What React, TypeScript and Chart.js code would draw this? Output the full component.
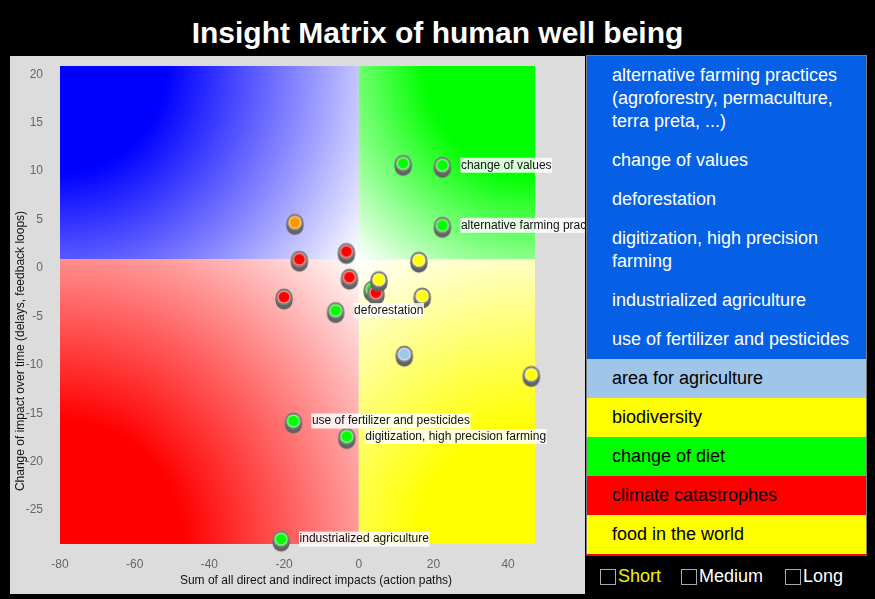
import React, { useEffect, useRef } from 'react';
import { Chart, registerables } from 'chart.js';

Chart.register(...registerables);

const TITLE = 'Insight Matrix of human well being';
const X_TITLE = 'Sum of all direct and indirect impacts (action paths)';
const Y_TITLE = 'Change of impact over time (delays, feedback loops)';

// scatter points (draw order matters for overlaps)
const xValues = [11.9, 22.4, -17.1, 22.4, -3.3, -15.9, 16.1, -2.5, 3.6, 4.6, 5.4, -20.0, 17.0, -6.2, 12.2, 46.2, -17.5, -3.2, -20.8];
const yValues = [10.8, 10.6, 4.7, 4.4, 1.7, 0.9, 0.8, -0.95, -2.2, -2.55, -1.2, -3.0, -2.9, -4.4, -8.9, -11.0, -15.8, -17.4, -28.0];
const pointKinds = ['green', 'green', 'orange', 'green', 'red', 'red', 'yellow', 'red', 'green', 'red', 'yellow', 'red', 'yellow', 'green', 'lightblue', 'yellow', 'green', 'green', 'green'];
const pointLabels = ['', 'change of values', '', 'alternative farming practices (agroforestry, permaculture, terra preta, ...)', '', '', '', '', '', '', '', '', '', 'deforestation', '', '', 'use of fertilizer and pesticides', 'digitization, high precision farming', 'industrialized agriculture'];

const kindColors: Record<string, string> = {
  green: '#00ff00',
  red: '#ff0000',
  yellow: '#ffff00',
  orange: '#ff9900',
  lightblue: '#9fc5e8',
};
const kindRims: Record<string, string> = {
  green: '#8dff8d',
  red: '#ff9090',
  yellow: '#ffff9a',
  orange: '#ffcc80',
  lightblue: '#d6e6f5',
};

// axis ranges / ticks
const X_MIN = -80;
const X_MAX = 47.2;
const X_STEP = 20;
const Y_MIN = -28.5;
const Y_MAX = 20.85;
const Y_STEP = 5;
const Y_SPLIT = 0.9;
const X_SPLIT = 0;

// side legend
const legendLines: string[][] = [
  ['alternative farming practices', '(agroforestry, permaculture,', 'terra preta, ...)'],
  ['change of values'],
  ['deforestation'],
  ['digitization, high precision', 'farming'],
  ['industrialized agriculture'],
  ['use of fertilizer and pesticides'],
  ['area for agriculture'],
  ['biodiversity'],
  ['change of diet'],
  ['climate catastrophes'],
  ['food in the world'],
];
const legendBg = ['#0560e6', '#0560e6', '#0560e6', '#0560e6', '#0560e6', '#0560e6', '#9fc5e8', '#ffff00', '#00ff00', '#ff0000', '#ffff00'];
const legendFg = ['#fff', '#fff', '#fff', '#fff', '#fff', '#fff', '#000', '#000', '#000', '#000', '#000'];

const horizonLabels = ['Short', 'Medium', 'Long'];
const horizonColors = ['#f2f200', '#fff', '#fff'];
const horizonX = [600, 681, 785];

const FONT = '"Liberation Sans", Arial, Helvetica, sans-serif';

function makeMarker(kind: string): HTMLCanvasElement {
  const c = document.createElement('canvas');
  c.width = 20;
  c.height = 30;
  const g = c.getContext('2d')!;
  const cx = 10;
  const cy = 15;
  g.fillStyle = '#626262';
  g.beginPath();
  g.arc(cx, cy + 4, 8.5, 0, Math.PI * 2);
  g.fill();
  g.fillRect(cx - 8.5, cy, 17, 4);
  g.fillStyle = '#7a7a7a';
  g.beginPath();
  g.arc(cx, cy, 8.5, 0, Math.PI * 2);
  g.fill();
  g.fillStyle = kindRims[kind];
  g.beginPath();
  g.arc(cx, cy, 6.6, 0, Math.PI * 2);
  g.fill();
  g.fillStyle = kindColors[kind];
  g.beginPath();
  g.arc(cx, cy, 5.3, 0, Math.PI * 2);
  g.fill();
  return c;
}

const quadrantPlugin = {
  id: 'quadrants',
  beforeDatasetsDraw(chart: any) {
    const { ctx, chartArea: a, scales } = chart;
    const cx = scales.x.getPixelForValue(X_SPLIT);
    const cy = scales.y.getPixelForValue(Y_SPLIT);
    const quads = [
      { x0: a.left, y0: a.top, x1: cx, y1: cy, fx: a.left, fy: a.top, color: '0,0,255', stop: 0.3 },
      { x0: cx, y0: a.top, x1: a.right, y1: cy, fx: a.right, fy: a.top, color: '0,255,0', stop: 0.42 },
      { x0: a.left, y0: cy, x1: cx, y1: a.bottom, fx: a.left, fy: a.bottom, color: '255,0,0', stop: 0.3 },
      { x0: cx, y0: cy, x1: a.right, y1: a.bottom, fx: a.right, fy: a.bottom, color: '255,255,0', stop: 0.35 },
    ];
    ctx.save();
    for (const q of quads) {
      const r = Math.hypot(cx - q.fx, cy - q.fy);
      const grad = ctx.createRadialGradient(q.fx, q.fy, 0, q.fx, q.fy, r);
      grad.addColorStop(0, `rgb(${q.color})`);
      grad.addColorStop(q.stop, `rgb(${q.color})`);
      grad.addColorStop(1, '#ffffff');
      ctx.fillStyle = grad;
      ctx.fillRect(q.x0, q.y0, q.x1 - q.x0, q.y1 - q.y0);
    }
    ctx.restore();
  },
};

const labelPlugin = {
  id: 'pointLabels',
  afterDatasetsDraw(chart: any) {
    const { ctx } = chart;
    const meta = chart.getDatasetMeta(0);
    ctx.save();
    ctx.font = `12px ${FONT}`;
    ctx.textBaseline = 'middle';
    meta.data.forEach((pt: any, i: number) => {
      const text = pointLabels[i];
      if (!text) return;
      const w = ctx.measureText(text).width;
      const lx = pt.x + 18;
      ctx.fillStyle = 'rgba(255,255,255,0.85)';
      ctx.fillRect(lx, pt.y - 7.5, w + 1, 15);
      ctx.fillStyle = '#111';
      ctx.fillText(text, lx + 0.5, pt.y);
    });
    ctx.restore();
  },
  afterDraw(chart: any) {
    const { ctx } = chart;
    ctx.save();
    ctx.font = `12px ${FONT}`;
    ctx.fillStyle = '#111';
    ctx.textAlign = 'center';
    ctx.textBaseline = 'middle';
    ctx.fillText(X_TITLE, 306, 525);
    ctx.translate(11, 295);
    ctx.rotate(-Math.PI / 2);
    ctx.fillText(Y_TITLE, 0, 0);
    ctx.restore();
  },
};

function MatrixChart() {
  const ref = useRef<HTMLCanvasElement | null>(null);
  useEffect(() => {
    if (!ref.current) return;
    const markers = pointKinds.map((k) => makeMarker(k));
    const data = xValues.map((x, i) => ({ x, y: yValues[i] }));
    const chart = new Chart(ref.current, {
      type: 'scatter',
      data: {
        datasets: [
          {
            data,
            pointStyle: markers as any,
            pointRadius: 9,
            pointHoverRadius: 9,
            clip: false as any,
          },
        ],
      },
      options: {
        animation: false,
        responsive: false,
        maintainAspectRatio: false,
        layout: { padding: { top: 9, right: 50, left: 0, bottom: 0 } },
        plugins: { legend: { display: false }, tooltip: { enabled: false }, title: { display: false } },
        scales: {
          x: {
            type: 'linear',
            min: X_MIN,
            max: X_MAX,
            border: { display: false },
            grid: { display: false, drawTicks: false },
            ticks: { stepSize: X_STEP, includeBounds: false, padding: 13, color: '#666', font: { family: FONT, size: 12 } },
            afterFit: (s: any) => {
              s.height = 50;
              s.paddingLeft = 0;
              s.paddingRight = 0;
              s.paddingTop = 0;
              s.paddingBottom = 0;
            },
          },
          y: {
            type: 'linear',
            min: Y_MIN,
            max: Y_MAX,
            border: { display: false },
            grid: { display: false, drawTicks: false },
            ticks: { stepSize: Y_STEP, includeBounds: false, padding: 17, color: '#666', font: { family: FONT, size: 12 } },
            afterFit: (s: any) => {
              s.width = 50;
              s.paddingLeft = 0;
              s.paddingRight = 0;
              s.paddingTop = 0;
              s.paddingBottom = 0;
            },
          },
        },
      },
      plugins: [quadrantPlugin, labelPlugin],
    } as any);
    return () => chart.destroy();
  }, []);
  return <canvas ref={ref} width={575} height={538} style={{ display: 'block', width: 575, height: 538 }} />;
}

export default function App() {
  return (
    <div style={{ position: 'fixed', left: 0, top: 0, width: 875, height: 599, background: '#000', overflow: 'hidden', fontFamily: FONT }}>
      <div style={{ position: 'absolute', left: 0, top: 18, width: 875, textAlign: 'center', color: '#fff', fontWeight: 'bold', fontSize: 30, lineHeight: '30px', fontFamily: FONT }}>
        {TITLE}
      </div>
      <div style={{ position: 'absolute', left: 10, top: 56, width: 575, height: 538, background: '#dcdcdc' }}>
        <MatrixChart />
      </div>
      <div
        style={{
          position: 'absolute',
          left: 586,
          top: 55,
          width: 281,
          height: 501,
          boxSizing: 'border-box',
          border: '1px solid #7a7a7a',
          borderBottom: '2px solid #ff0000',
          overflow: 'hidden',
          background: '#ff0000',
        }}
      >
        {legendLines.map((lines, i) => (
          <div key={i} style={{ background: legendBg[i], color: legendFg[i], padding: '8px 0 8px 25px', fontSize: 18, lineHeight: '23px', whiteSpace: 'nowrap' }}>
            {lines.map((l, j) => (
              <div key={j}>{l}</div>
            ))}
          </div>
        ))}
      </div>
      {horizonLabels.map((t, i) => (
        <div key={t} style={{ position: 'absolute', left: horizonX[i], top: 565, height: 23, display: 'flex', alignItems: 'center', fontSize: 18, color: horizonColors[i] }}>
          <span style={{ display: 'inline-block', width: 14, height: 14, border: '1px solid #aaa', background: '#000', marginRight: 2 }} />
          <span>{t}</span>
        </div>
      ))}
    </div>
  );
}
